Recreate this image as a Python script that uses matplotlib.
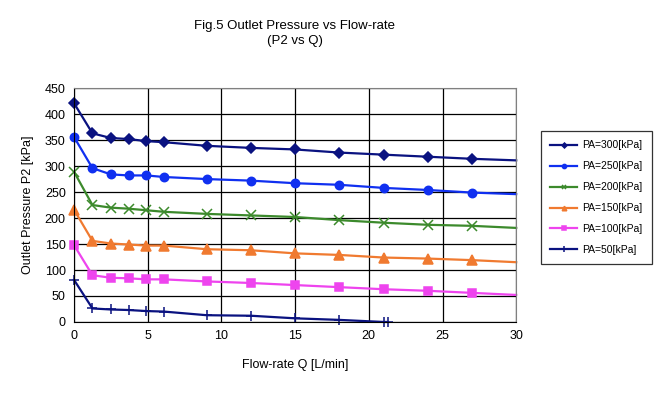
# -*- coding: utf-8 -*-
import matplotlib
matplotlib.use("Agg")
import matplotlib.pyplot as plt

plt.rcParams["font.family"] = ["Liberation Sans", "DejaVu Sans"]

# Datos
caudal = [0, 1.25, 2.5, 3.7, 4.9, 6.1, 9, 12, 15, 18, 21, 24, 27, 30]
p2_300 = [421, 363, 354, 352, 348, 346, 339, 335, 332, 326, 322, 318, 314, 311]
p2_250 = [356, 296, 284, 282, 282, 279, 275, 272, 267, 264, 258, 254, 249, 246]
p2_200 = [289, 225, 220, 218, 215, 212, 208, 205, 202, 196, 191, 187, 185, 181]
p2_150 = [216, 156, 151, 149, 147, 147, 140, 138, 132, 129, 124, 122, 119, 115]
p2_100 = [148, 90, 85, 84, 82, 82, 78, 75, 71, 67, 63, 60, 56, 52]
caudal_50 = [0, 1.25, 2.5, 3.7, 4.9, 6.1, 9, 12, 15, 18, 21, 21.3]
p2_50 = [81, 26, 24, 23, 21, 20, 13, 12, 7, 4, 0, 0]

series = [
    ("PA=300[kPa]", caudal, p2_300, "#0a1280", "D", 5, 1),
    ("PA=250[kPa]", caudal, p2_250, "#1030f0", "o", 6, 1),
    ("PA=200[kPa]", caudal, p2_200, "#3c8a2c", "x", 6.5, 1),
    ("PA=150[kPa]", caudal, p2_150, "#f07a30", "^", 6.5, 1),
    ("PA=100[kPa]", caudal, p2_100, "#ee44ee", "s", 6, 1),
    ("PA=50[kPa]", caudal_50, p2_50, "#0a1280", "+", 7.5, 0),
]

fig = plt.figure(figsize=(6.58, 3.97), dpi=100)
ax = fig.add_axes([0.1125, 0.189, 0.672, 0.589])

for nombre, x, y, color, marcador, ms, saltar in series:
    n = len(x) - saltar
    ax.plot(x, y, color=color, lw=1.6, marker=marcador, ms=ms,
            markevery=list(range(n)), mew=1.1, label=nombre, clip_on=False)

ax.set_xlim(0, 30)
ax.set_ylim(0, 450)
ax.set_xticks(range(0, 31, 5))
ax.set_yticks(range(0, 451, 50))
ax.grid(True, color="black", lw=0.9)
ax.set_axisbelow(True)
ax.tick_params(labelsize=9, length=0, pad=6)
for lado in ["top", "right"]:
    ax.spines[lado].set_color("#808080")
for lado in ["left", "bottom"]:
    ax.spines[lado].set_color("black")

ax.set_xlabel("Flow-rate Q [L/min]", fontsize=9, labelpad=12)
ax.set_ylabel("Outlet Pressure P2 [kPa]", fontsize=9, labelpad=8)
fig.text(0.448, 0.935, "Fig.5 Outlet Pressure vs Flow-rate", ha="center", va="center", fontsize=9.5)
fig.text(0.448, 0.897, "(P2 vs Q)", ha="center", va="center", fontsize=9.5)

leg = fig.legend(loc="upper left", bbox_to_anchor=(0.822, 0.670), borderaxespad=0,
                 fontsize=7.5, frameon=True, fancybox=False, edgecolor="black",
                 markerscale=0.5, handlelength=2.6, handletextpad=0.5,
                 labelspacing=1.05, borderpad=0.9)
leg.get_frame().set_linewidth(0.9)

fig.savefig("out.png", dpi=100)
